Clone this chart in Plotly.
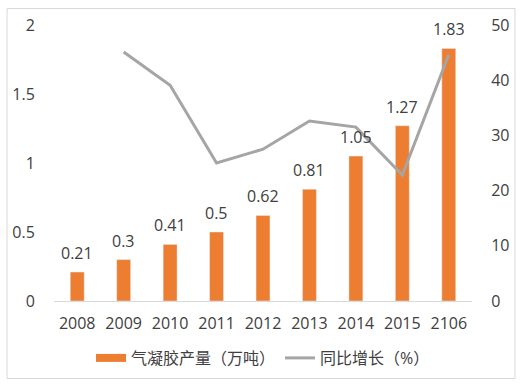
import plotly.graph_objects as go

years = ["2008", "2009", "2010", "2011", "2012", "2013", "2014", "2015", "2106"]
output = [0.21, 0.3, 0.41, 0.5, 0.62, 0.81, 1.05, 1.27, 1.83]
growth = [None, 45.1, 39.1, 25.0, 27.5, 32.6, 31.5, 22.8, 44.6]

bar_name = "气凝胶产量（万吨）"
line_name = "同比增长（%）"

FONT = "Open Sans, Noto Sans CJK SC, sans-serif"
TXT = "#404040"
ORANGE = "#ED7D31"
GRAY = "#A5A5A5"

fig = go.Figure()
fig.add_trace(go.Bar(
    x=years, y=output, name=bar_name, showlegend=False,
    marker_color=ORANGE, width=0.3,
))
fig.add_trace(go.Scatter(
    x=years, y=growth, name=line_name, yaxis="y2",
    mode="lines", line=dict(color=GRAY, width=3),
    connectgaps=False, showlegend=False,
))
# legend entries
fig.add_trace(go.Scatter(
    x=[years[0]], y=[None], name=bar_name, mode="lines",
    line=dict(color=ORANGE, width=8),
))
fig.add_trace(go.Scatter(
    x=[years[0]], y=[None], name=line_name, mode="lines", yaxis="y2",
    line=dict(color=GRAY, width=3),
))

W, H = 521, 388
l, r, t, b = 51, 47, 25, 87
pw, ph = W - l - r, H - t - b


def px(xp):
    return (xp - l) / pw


def py(yp):
    return (H - b - yp) / ph


annotations = [
    dict(x=i, y=v, xref="x", yref="y", text=f"{v:g}", showarrow=False,
         yanchor="bottom", yshift=6, font=dict(size=16, color=TXT, family=FONT))
    for i, v in enumerate(output)
]

fig.update_layout(
    width=W, height=H,
    margin=dict(l=l, r=r, t=t, b=b),
    paper_bgcolor="white", plot_bgcolor="white",
    font=dict(family=FONT, size=16, color=TXT),
    showlegend=True,
    legend=dict(orientation="h", x=0.5, xanchor="center", y=py(358), yanchor="middle",
                font=dict(size=16, color=TXT), itemwidth=30, tracegroupgap=0),
    xaxis=dict(type="category", categoryorder="array", categoryarray=years,
               range=[-0.5, len(years) - 0.5],
               showline=True, linecolor="#D9D9D9", linewidth=1,
               showgrid=False, ticks="outside", ticklen=8, tickcolor="rgba(0,0,0,0)",
               tickfont=dict(size=16, color=TXT)),
    yaxis=dict(range=[0, 2], dtick=0.5, showgrid=False, zeroline=False, showline=False,
               ticks="outside", ticklen=15, tickcolor="rgba(0,0,0,0)",
               tickfont=dict(size=16, color=TXT)),
    yaxis2=dict(range=[0, 50], dtick=10, overlaying="y", side="right", showgrid=False,
                zeroline=False, showline=False, ticks="outside", ticklen=15,
                tickcolor="rgba(0,0,0,0)", tickfont=dict(size=16, color=TXT)),
    annotations=annotations,
    shapes=[dict(type="rect", xref="paper", yref="paper",
                 x0=px(3.5), x1=px(517.5), y0=py(378.5), y1=py(8.5),
                 line=dict(color="#D9D9D9", width=1), fillcolor="rgba(0,0,0,0)", layer="below")],
)

fig.write_html("out.html", config={"displayModeBar": False},
               post_script="document.body.style.margin='0';document.body.style.overflow='hidden';")
